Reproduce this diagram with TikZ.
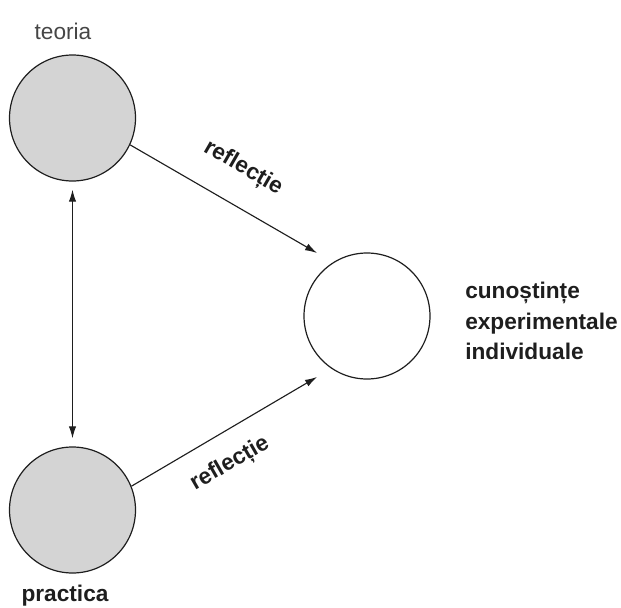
\documentclass[tikz,border=0pt]{standalone}
\usepackage{fontspec}
\setmainfont{Liberation Sans}
\usetikzlibrary{arrows.meta}
\definecolor{circfill}{RGB}{212,212,212}
\definecolor{ink}{RGB}{30,30,30}
\definecolor{softink}{RGB}{70,70,70}
\tikzset{
  bubble/.style={circle, draw=ink, line width=0.9pt, minimum size=94.5pt, inner sep=0pt},
  filled/.style={bubble, fill=circfill},
  conn/.style={draw=ink, line width=0.85pt, -{Latex[length=9pt,width=5.5pt]}},
  bothconn/.style={draw=ink, line width=0.85pt, {Latex[length=9pt,width=5.5pt]}-{Latex[length=9pt,width=5.5pt]}},
  lbl/.style={font=\fontsize{17pt}{23pt}\selectfont\bfseries, text=ink, inner sep=0pt},
  plainlbl/.style={font=\fontsize{17pt}{23pt}\selectfont, text=softink, inner sep=0pt}
}
\begin{document}
\begin{tikzpicture}[x=0.75pt, y=-0.75pt]
\useasboundingbox (0,0) rectangle (621,607);
\node[filled] (t) at (72.5,118) {};
\node[filled] (p) at (72.5,510) {};
\node[bubble] (c) at (367,316) {};
\coordinate (e1) at (317,253);
\coordinate (e2) at (317,377);
\node[plainlbl, anchor=base] (tl) at (63,39) {teoria};
\node[lbl, anchor=base] (pl) at (65,601) {practica};
\node[lbl, anchor=west, align=left] (cl) at (465,321) {cunoștințe\\experimentale\\individuale};
\draw[conn] (t.-25) -- (e1);
\draw[conn] (p.22) -- (e2);
\draw[bothconn, shorten <=6pt, shorten >=6pt] (t.south) -- (p.north);
\node[lbl, rotate=-30] (r1) at (243,168) {reflecție};
\node[lbl, rotate=30] (r2) at (230,464) {reflecție};
\end{tikzpicture}
\end{document}
